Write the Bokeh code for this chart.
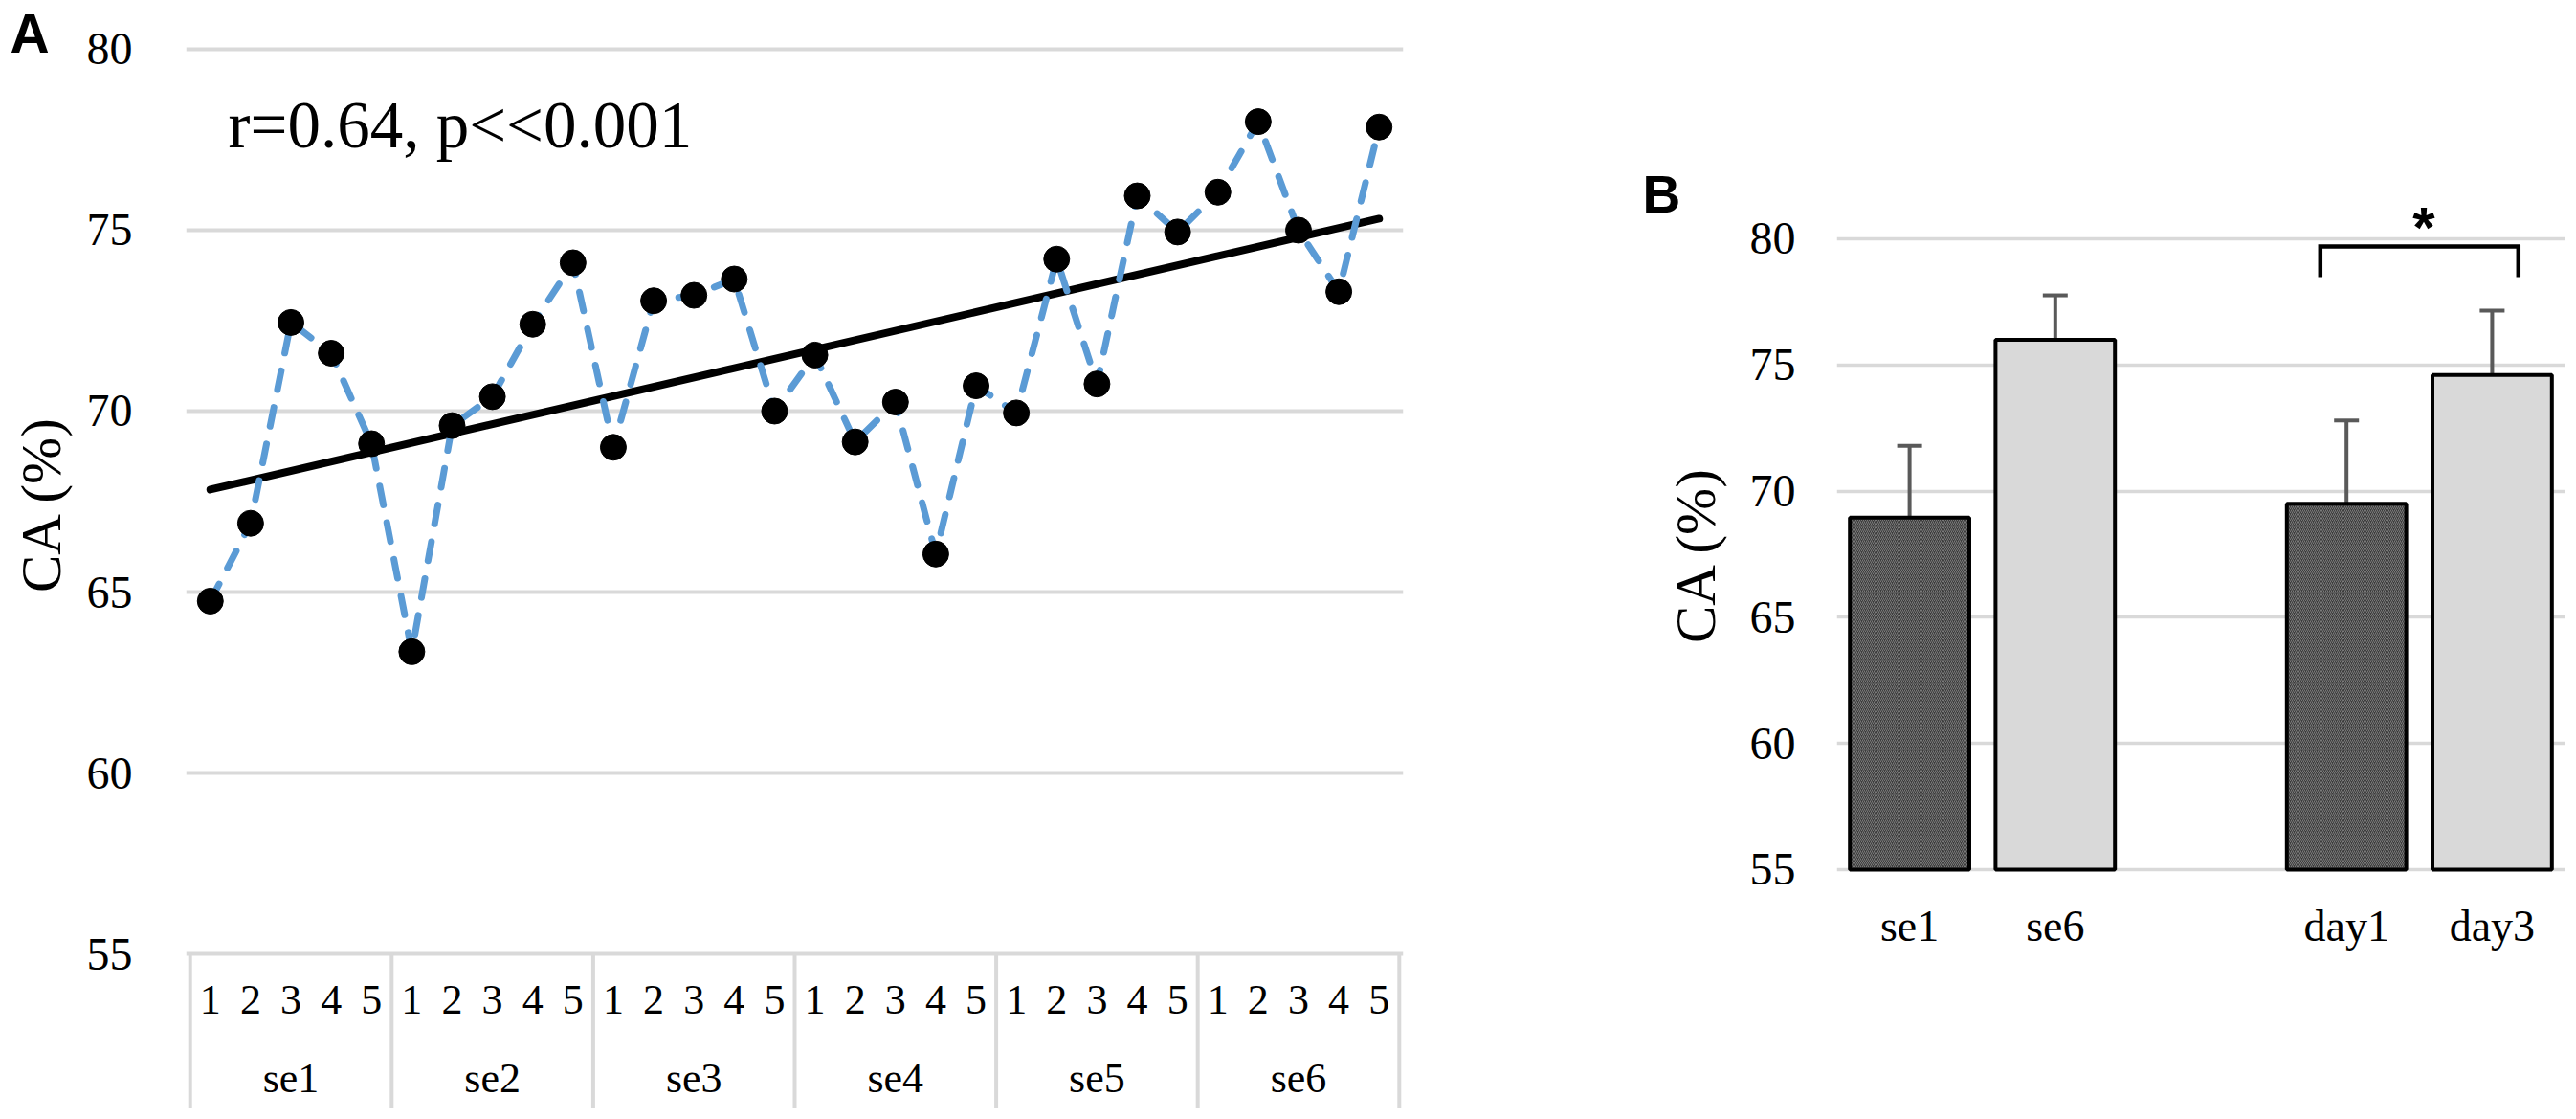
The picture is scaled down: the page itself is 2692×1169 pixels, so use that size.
import numpy as np
from bokeh.plotting import figure
from bokeh.models import FactorRange, FixedTicker, ColumnDataSource, Whisker, TeeHead, Range1d
from bokeh.layouts import row
from bokeh.embed import file_html
from bokeh.resources import INLINE
from bokeh.core.properties import value

# ---------------- data ----------------
sessions = ["se1", "se2", "se3", "se4", "se5", "se6"]
trials = ["1", "2", "3", "4", "5"]
ca_se1 = [64.75, 66.9, 72.45, 71.6, 69.1]
ca_se2 = [63.35, 69.6, 70.4, 72.4, 74.1]
ca_se3 = [69.0, 73.05, 73.2, 73.65, 70.0]
ca_se4 = [71.55, 69.15, 70.25, 66.05, 70.7]
ca_se5 = [69.95, 74.2, 70.75, 75.95, 74.95]
ca_se6 = [76.05, 78.0, 75.0, 73.3, 77.85]
y_ticks = [55, 60, 65, 70, 75, 80]
stat_text = "r=0.64, p<<0.001"
y_label = "CA (%)"

b_categories = ["se1", "se6", " ", "day1", "day3"]
b_bars = ["se1", "se6", "day1", "day3"]
b_means = [68.95, 76.0, 69.5, 74.6]
b_sd = [2.85, 1.76, 3.3, 2.55]
b_dark = ["se1", "day1"]
sig_pair = ["day1", "day3"]
sig_mark = "*"

SERIF = "Liberation Serif"
SANS = "Liberation Sans"
GRID = "#d9d9d9"


def fig(**kw):
    p = figure(output_backend="svg", toolbar_location=None, **kw)
    if "frame_align" in p.properties():
        p.frame_align = False
    p.outline_line_color = None
    p.background_fill_color = "white"
    p.border_fill_color = "white"
    return p


def label_strip(letter, letter_size, width_left, top, frame_h, offset):
    """Narrow figure carrying the panel letter (title) and the y-axis title."""
    s = fig(title=letter, frame_width=1, frame_height=frame_h, min_border_left=width_left,
            min_border_right=0, min_border_top=top, min_border_bottom=0,
            x_range=Range1d(0, 1), y_range=Range1d(0, 1), x_axis_location=None)
    s.grid.visible = False
    t = s.title
    t.text_font = SANS
    t.text_font_style = "bold"
    t.text_font_size = letter_size
    t.text_color = "black"
    t.align = "left"
    t.offset = offset
    t.standoff = 0
    t.vertical_align = "bottom"
    ax = s.yaxis
    ax.ticker = FixedTicker(ticks=[])
    ax.axis_line_color = None
    ax.major_tick_out = 0
    ax.minor_tick_out = 0
    ax.major_tick_line_color = None
    ax.minor_tick_line_color = None
    ax.major_label_standoff = 0
    ax.axis_label = y_label
    ax.axis_label_text_font = SERIF
    ax.axis_label_text_font_size = "59px"
    ax.axis_label_text_font_style = "normal"
    ax.axis_label_text_color = "black"
    ax.axis_label_standoff = 0
    return s


def style_y(p, standoff):
    t = FixedTicker(ticks=y_ticks)
    p.yaxis.ticker = t
    p.ygrid.ticker = t
    p.ygrid.grid_line_color = GRID
    p.ygrid.grid_line_width = 4
    p.xgrid.visible = False
    ax = p.yaxis
    ax.axis_line_color = None
    ax.major_tick_out = 0
    ax.minor_tick_out = 0
    ax.major_tick_line_color = None
    ax.minor_tick_line_color = None
    ax.major_label_text_font = SERIF
    ax.major_label_text_font_size = "48px"
    ax.major_label_text_color = "black"
    ax.major_label_standoff = standoff


# ================= panel A =================
factors = [(s, t) for s in sessions for t in trials]
ca_all = ca_se1 + ca_se2 + ca_se3 + ca_se4 + ca_se5 + ca_se6
trial_labels = [t for s in sessions for t in trials]
xrA = FactorRange(factors=factors, group_padding=0, factor_padding=0,
                  range_padding=0.1, range_padding_units="absolute")

# frame of the strip spans 64..984 so that the axis title is centred at y=524
lA = label_strip("A", "57px", 75, 64, 920, -65)

pA = fig(frame_width=1272, frame_height=1168, x_range=xrA, y_range=Range1d(50.45, 81.349),
         x_axis_location=None, min_border_left=118, min_border_right=142,
         min_border_top=0, min_border_bottom=0)
style_y(pA, 56)

# group separators of the two-level category axis
sep_x = [(s, trials[0], -0.5) for s in sessions] + [(sessions[-1], trials[-1], 0.5)]
pA.segment(x0=sep_x, y0=55, x1=sep_x, y1=50.74, line_color=GRID, line_width=4)

idx = np.arange(len(ca_all))
fit = np.polyfit(idx, ca_all, 1)
pA.line(x=[factors[0], factors[-1]], y=[float(np.polyval(fit, idx[0])), float(np.polyval(fit, idx[-1]))],
        line_color="black", line_width=8, line_cap="round")
pA.line(x=factors, y=ca_all, line_color="#5B9BD5", line_width=7, line_dash="20 19", line_cap="round")
pA.scatter(x=factors, y=ca_all, size=27, fill_color="black", line_color="black")
pA.text(x=[(sessions[0], trials[0], 0.446)], y=[77.89], text=[stat_text], text_font=value(SERIF),
        text_font_size="69px", text_align="left", text_baseline="middle", text_color="black")

pA.text(x=factors, y=53.72, text=trial_labels, text_font=value(SERIF), text_font_size="44px",
        text_align="center", text_baseline="middle", text_color="black")
pA.text(x=[(s, trials[2]) for s in sessions], y=51.55, text=sessions, text_font=value(SERIF),
        text_font_size="44px", text_align="center", text_baseline="middle", text_color="black")

# ================= panel B =================
# frame of the strip spans 233..925 so that the axis title is centred at y=579
lB = label_strip("B", "55px", 196, 233, 692, -88)

xrB = FactorRange(factors=b_categories, range_padding=0, factor_padding=0)
pB = fig(frame_width=761, frame_height=940, x_range=xrB, y_range=Range1d(53.786, 89.446),
         min_border_left=114, min_border_right=4, min_border_top=0, min_border_bottom=228)
style_y(pB, 43)
pB.ygrid.grid_line_width = 3.5
xa = pB.xaxis
xa.axis_line_color = None
xa.major_tick_out = 0
xa.minor_tick_out = 0
xa.major_tick_line_color = None
xa.minor_tick_line_color = None
xa.major_label_text_font = SERIF
xa.major_label_text_color = "black"
xa.major_label_text_font_size = "46px"
xa.major_label_standoff = 1

dark = [i for i, c in enumerate(b_bars) if c in b_dark]
light = [i for i, c in enumerate(b_bars) if c not in b_dark]
pB.vbar(x=[b_bars[i] for i in light], top=[b_means[i] for i in light], bottom=55, width=0.82,
        fill_color="#d9d9d9", line_color="black", line_width=4)
pB.vbar(x=[b_bars[i] for i in dark], top=[b_means[i] for i in dark], bottom=55, width=0.82,
        fill_color="#3c3c3c", line_color="black", line_width=4,
        hatch_pattern="right_diagonal_line", hatch_color="#7a7a7a", hatch_scale=4, hatch_weight=1)

err_src = ColumnDataSource(dict(x=b_bars,
                                upper=[m + s for m, s in zip(b_means, b_sd)],
                                lower=[m - s for m, s in zip(b_means, b_sd)]))
pB.add_layout(Whisker(source=err_src, base="x", upper="upper", lower="lower",
                      line_color="#595959", line_width=4,
                      upper_head=TeeHead(size=26, line_color="#595959", line_width=4),
                      lower_head=TeeHead(size=26, line_color="#595959", line_width=4)))

bx = [(sig_pair[0], -0.18), (sig_pair[0], -0.18), (sig_pair[1], 0.18), (sig_pair[1], 0.18)]
pB.line(x=bx, y=[78.48, 79.7, 79.7, 78.48], line_color="black", line_width=4.5, line_join="miter")
pB.text(x=[(sig_pair[0], 0.53)], y=[80.46], text=[sig_mark], text_font=value(SANS), text_font_style="bold",
        text_font_size="60px", text_align="center", text_baseline="middle", text_color="black")

layout = row(lA, pA, lB, pB)
open("out.html", "w").write(file_html(layout, INLINE, "CA"))
